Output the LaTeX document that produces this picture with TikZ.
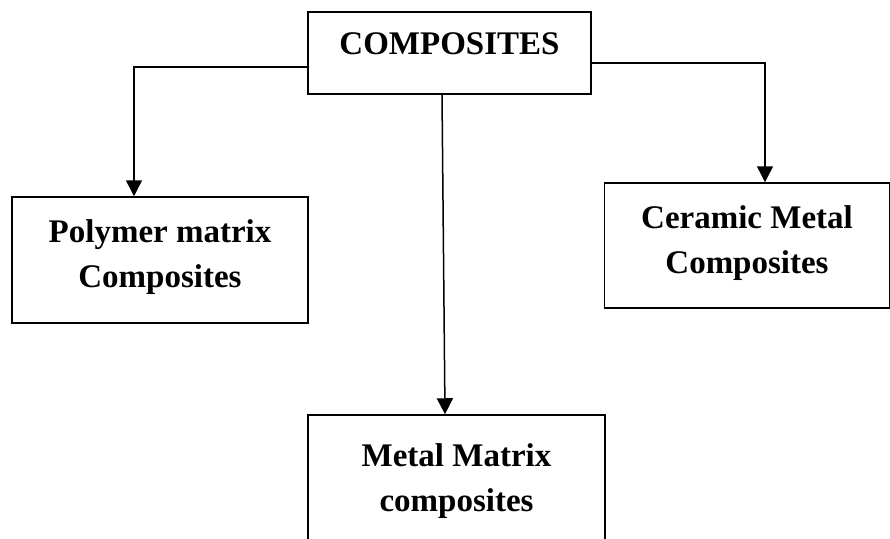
\documentclass[tikz,border=0pt]{standalone}
\usepackage{fontspec}
\setmainfont{Liberation Serif}
\usepackage{tikz}
\usetikzlibrary{positioning,arrows.meta}

\begin{document}
\begin{tikzpicture}[
      x=1pt, y=-1pt,
      box/.style={draw, line width=1.5pt, inner sep=0pt},
      txt/.style={font=\fontsize{33}{45}\selectfont\bfseries, align=center},
      >={Triangle[length=16pt, width=16pt]}]
    \clip (0,0) rectangle (890,538);
    \useasboundingbox (0,0) rectangle (890,538);
    \node[box, minimum width=283pt, minimum height=82pt,
          label={[txt, yshift=9pt]center:COMPOSITES}] (comp) at (449.5,53) {};
    \node[box, minimum width=296pt, minimum height=126pt,
          label={[txt, yshift=3pt]center:Polymer matrix\\Composites}] (poly) at (160,260) {};
    \node[box, minimum width=285pt, minimum height=125pt,
          label={[txt, yshift=2pt]center:Ceramic Metal\\Composites}] (ceram) at (747,245.5) {};
    \node[box, minimum width=297pt, minimum height=140pt,
          label={[txt, yshift=4pt]center:Metal Matrix\\composites}] (metal) at (456.5,485) {};
    \draw[->, line width=1.5pt] ([yshift=-14pt]comp.west) -| ([xshift=-26pt]poly.north);
    \draw[->, line width=1.5pt] ([yshift=-10pt]comp.east) -| ([xshift=18pt]ceram.north);
    \draw[->, line width=1.5pt] ([xshift=-7.5pt]comp.south) -- ([xshift=-11.5pt]metal.north);
  \end{tikzpicture}
\end{document}
